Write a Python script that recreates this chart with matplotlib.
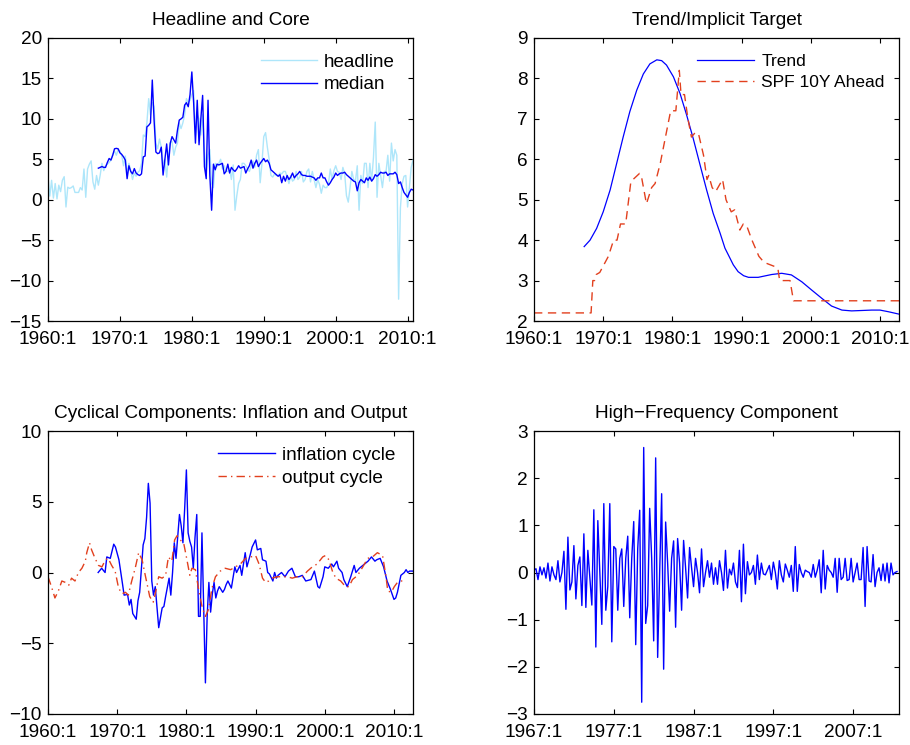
import numpy as np
import matplotlib
matplotlib.use("Agg")
import matplotlib.pyplot as plt

plt.rcParams['font.family'] = ['Liberation Sans', 'DejaVu Sans']

# ---------------- data ----------------
headline_start = 1960.0
headline = [
    2.85, 0.45, 2.4, 0.2,  2.0, 0.1, 1.8, 1.0,  2.4, 2.85, -0.9, 1.55,  1.4, 1.5, 1.7, 0.9,
    0.9, 0.9, 1.5, 1.2,  3.8, 0.3, 3.8, 4.4,  4.8, 2.2, 1.3, 3.0,
    1.8, 3.0, 4.5, 3.6,  4.2, 4.4, 4.6, 4.9,  5.6, 6.0, 5.5, 6.2,  6.0, 5.5, 4.2, 5.4,
    3.2, 4.5, 3.6, 2.5,  3.3, 2.9, 3.4, 3.6,  4.5, 8.0, 7.8, 9.5,  12.5, 10.5, 12.0, 11.5,
    7.0, 6.3, 7.5, 6.5,  4.5, 5.0, 2.8, 5.5,  7.0, 7.2, 5.5, 6.5,  7.0, 9.5, 8.8, 9.5,
    10.5, 12.5, 12.0, 12.3,  13.0, 13.5, 8.0, 10.5,  10.0, 8.0, 10.5, 6.0,  3.5, 5.5, 6.2, 2.0,
    1.5, 4.5, 4.1, 4.5,  5.0, 3.8, 4.2, 3.5,  3.5, 3.8, 2.5, 4.3,  -1.3, 0.5, 2.0, 2.5,
    4.5, 4.5, 4.2, 3.8,  3.5, 4.2, 4.8, 4.0,  5.5, 6.2, 2.1, 4.5,  7.8, 8.3, 6.5, 5.0,
    3.0, 2.8, 3.2, 3.0,  3.0, 3.3, 3.2, 3.5,  3.5, 2.8, 2.0, 3.0,  2.3, 2.5, 3.5, 2.5,
    2.8, 3.5, 2.2, 2.5,  3.5, 3.8, 2.2, 3.5,  2.5, 1.5, 2.5, 1.9,  0.8, 1.8, 1.5, 1.5,
    2.0, 3.8, 2.5, 3.6,  4.2, 3.5, 3.4, 2.5,  4.0, 3.2, 0.5, -0.3,  1.5, 3.5, 2.5, 2.3,
    4.2, -1.3, 3.0, 2.0,  4.5, 4.5, 1.5, 4.5,  2.3, 5.2, 9.6, 0.3,  4.5, 3.0, 1.5, 3.5,
    3.5, 5.5, 2.3, 7.0,  4.8, 6.2, 5.5, -12.3,  -1.0, 2.0, 2.9, 3.0,  -0.9, 1.5, 4.0, 4.9,
]
median_start = 1967.0
median = [
    3.9, 4.0, 4.1, 4.0,  4.0, 4.6, 5.1, 4.9,  5.5, 6.3, 6.35, 6.3,  5.8, 5.6, 5.3, 4.9,
    2.6, 4.2, 3.5, 3.2,  3.85, 3.3, 3.1, 3.0,  3.2, 5.3, 5.4, 9.0,  9.2, 9.5, 14.8, 9.85,
    5.9, 5.7, 5.8, 6.5,  3.05, 5.0, 6.9, 4.3,  7.0, 7.8, 7.4, 7.0,  8.6, 9.85, 10.0, 10.2,
    11.7, 12.0, 11.5, 13.0,  15.8, 12.0, 7.0, 12.3,  6.8, 10.0, 12.9, 4.1,  2.6, 12.3, 3.0, -1.3,
    4.4, 3.7, 4.4, 4.3,  4.4, 4.5, 3.2, 3.5,  4.4, 3.3, 4.0, 3.7,  3.5, 3.8, 4.2, 3.9,
    4.0, 4.1, 3.3, 3.8,  4.2, 4.9, 3.9, 4.5,  4.9, 4.1, 4.5, 4.8,  5.1, 4.7, 4.9, 4.5,
    3.7, 3.5, 3.3, 3.1,  2.9, 3.1, 2.1, 2.9,  2.3, 3.0, 2.5, 2.8,  3.3, 2.7, 3.0, 3.2,
    3.5, 3.1, 3.0, 3.0,  2.9, 2.9, 2.9, 2.8,  2.7, 2.4, 2.7, 2.7,  3.3, 2.7, 2.7, 2.2,
    1.8, 2.1, 2.5, 2.8,  3.3, 3.0, 3.2, 3.3,  3.3, 3.4, 3.1, 2.9,  2.7, 2.5, 2.3, 2.2,
    1.1, 2.1, 2.5, 2.3,  2.1, 2.7, 2.4, 2.8,  2.3, 2.6, 3.1, 2.9,  3.1, 3.4, 3.3, 3.3,
    3.4, 3.0, 3.2, 3.2,  3.2, 3.4, 3.1, 2.0,  2.2, 1.5, 0.9, 0.6,  0.3, 0.9, 1.3, 1.2,
]

trend_years = [1967.25, 1968.1, 1969.05, 1970.0, 1971.0, 1971.95, 1972.9, 1973.85, 1974.85,
               1975.8, 1976.75, 1977.75, 1978.45, 1979.15, 1980.15, 1981.1, 1982.05, 1983.0,
               1984.0, 1984.95, 1985.9, 1986.9, 1987.6, 1988.1, 1988.8, 1989.5, 1990.3,
               1991.0, 1992.4, 1994.35, 1995.8, 1997.2, 1998.7, 2000.1, 2001.6, 2003.0,
               2004.5, 2005.9, 2007.4, 2008.8, 2010.0, 2011.2, 2012.75]
trend = [3.84, 4.0, 4.29, 4.70, 5.24, 5.90, 6.56, 7.18, 7.71,
         8.11, 8.36, 8.46, 8.44, 8.33, 8.04, 7.63, 7.10, 6.52,
         5.86, 5.24, 4.66, 4.17, 3.80, 3.63, 3.39, 3.22, 3.12,
         3.08, 3.08, 3.15, 3.18, 3.14, 2.97, 2.77, 2.56, 2.37,
         2.27, 2.25, 2.26, 2.27, 2.27, 2.23, 2.17]

spf_years = [1960.0, 1968.25, 1968.5, 1968.75, 1969.0, 1969.5, 1970.75, 1971.5, 1972.0,
             1972.5, 1973.25, 1974.0, 1975.25, 1975.5, 1976.25, 1977.0, 1977.5, 1978.25,
             1979.75, 1980.5, 1981.0, 1981.25, 1981.75, 1982.25, 1982.75, 1983.25, 1983.75,
             1984.5, 1985.0, 1985.25, 1985.75, 1986.25, 1987.25, 1987.75, 1988.5, 1989.0,
             1989.75, 1990.25, 1990.75, 1991.5, 1992.0, 1992.5, 1993.25, 1994.75, 1995.25,
             1995.5, 1997.0, 1997.5, 2012.75]
spf = [2.2, 2.2, 3.0, 3.0, 3.15, 3.2, 3.6, 4.0, 4.0,
       4.4, 4.4, 5.45, 5.65, 5.6, 4.9, 5.3, 5.4, 5.9,
       7.2, 7.2, 8.2, 7.6, 7.6, 7.0, 6.55, 6.65, 6.65,
       6.1, 5.5, 5.6, 5.3, 5.2, 5.5, 5.0, 4.7, 4.75,
       4.25, 4.4, 4.35, 4.0, 3.8, 3.6, 3.45, 3.35, 3.3,
       3.0, 3.0, 2.5, 2.5]

infl_years = [1967.25, 1967.75, 1968.25, 1968.5, 1969.0, 1969.5, 1969.75, 1970.25, 1970.75,
              1971.0, 1971.5, 1971.75, 1972.0, 1972.25, 1972.75, 1973.0, 1973.25, 1973.75,
              1974.0, 1974.25, 1974.5, 1974.75, 1975.0, 1975.25, 1975.5, 1976.0, 1976.5,
              1976.75, 1977.0, 1977.5, 1977.75, 1978.0, 1978.25, 1978.5, 1979.0, 1979.25,
              1979.5, 1979.75, 1980.0, 1980.25, 1980.5, 1980.75, 1981.0, 1981.25, 1981.5,
              1981.75, 1982.0, 1982.25, 1982.75, 1983.0, 1983.25, 1983.5, 1983.75, 1984.0,
              1984.25, 1984.5, 1984.75, 1985.0, 1985.25, 1985.5, 1985.75, 1986.0, 1986.5,
              1987.0, 1987.25, 1987.75, 1988.0, 1988.5, 1988.75, 1989.25, 1989.5, 1990.0,
              1990.25, 1990.75, 1991.0, 1991.5, 1991.75, 1992.0, 1992.5, 1992.75, 1993.0,
              1993.25, 1993.75, 1994.25, 1994.75, 1995.25, 1995.75, 1996.25, 1996.75, 1997.25,
              1998.0, 1998.5, 1999.0, 1999.25, 1999.75, 2000.0, 2000.5, 2001.0, 2001.25,
              2001.75, 2002.0, 2002.5, 2002.75, 2003.25, 2003.75, 2004.25, 2004.5, 2005.0,
              2005.75, 2006.25, 2006.75, 2007.25, 2007.5, 2008.0, 2008.5, 2009.0, 2009.5,
              2010.0, 2010.25, 2010.5, 2011.0, 2011.5, 2011.75, 2012.0, 2012.25, 2012.75]
infl_cycle = [0.0, 0.3, 0.0, 1.1, 1.0, 2.0, 1.8, 0.9, -0.75,
              -1.6, -1.55, -2.3, -1.9, -2.9, -3.3, -2.0, -1.4, 1.95,
              2.4, 3.9, 6.3, 4.9, -0.6, -1.6, -1.0, -3.9, -2.5,
              -2.4, -1.7, -0.4, -1.6, 0.0, 2.1, 1.0, 4.1, 3.3,
              2.1, 4.5, 7.25, 2.8, 2.2, 1.8, 0.3, 2.5, 4.1,
              -3.1, -3.1, 2.8, -7.8, -3.1, -0.7, -2.8, -1.5, -0.7,
              -1.8, -1.3, -1.0, -1.2, -1.4, -1.2, -0.85, -0.6, -1.1,
              0.4, 0.0, 0.5, -0.2, 1.4, 0.4, 1.3, 1.8, 2.3,
              1.6, 1.7, 0.9, 0.8, 0.0, -0.1, -0.6, 0.0, -0.4,
              -0.2, 0.0, -0.3, 0.1, 0.3, -0.3, -0.3, -0.2, -0.6,
              -0.5, 0.1, -1.0, -1.1, -0.3, 0.4, 0.3, 0.6, 0.4,
              0.8, 0.3, 0.0, -0.5, -1.0, -0.3, 0.5, 0.0, 0.3,
              0.6, 0.8, 1.1, 0.8, 0.9, 1.0, 0.4, -0.6, -1.2,
              -1.9, -1.8, -1.4, -0.2, 0.0, 0.2, 0.0, 0.1, 0.1]

out_years = [1960.0, 1960.5, 1961.0, 1961.5, 1962.0, 1962.5, 1963.0, 1963.4, 1963.9, 1964.4,
             1964.9, 1965.4, 1965.6, 1966.0, 1966.3, 1966.8, 1967.3, 1967.8, 1968.3, 1968.7,
             1969.2, 1969.7, 1970.2, 1970.7, 1971.2, 1971.6, 1972.1, 1972.6, 1973.1, 1973.6,
             1974.1, 1974.7, 1975.2, 1975.5, 1976.0, 1976.5, 1977.0, 1977.4, 1977.9, 1978.3,
             1978.65, 1979.1, 1979.6, 1980.0, 1980.5, 1980.8, 1981.3, 1981.8, 1982.3, 1982.75,
             1983.2, 1983.7, 1984.2, 1984.9, 1985.6, 1986.4, 1987.1, 1987.8, 1988.55, 1989.3,
             1990.0, 1990.5, 1991.0, 1991.45, 1991.9, 1992.4, 1993.1, 1993.85, 1994.6, 1995.3,
             1996.0, 1996.75, 1997.5, 1998.2, 1998.9, 1999.7, 2000.1, 2000.6, 2001.1, 2001.6,
             2002.3, 2003.0, 2003.5, 2004.0, 2004.75, 2005.5, 2006.2, 2006.9, 2007.6, 2008.35,
             2008.85, 2009.1, 2009.6, 2010.05, 2010.5, 2011.0, 2011.5]
out_cycle = [-0.3, -1.0, -1.8, -1.3, -0.6, -0.7, -0.9, -0.4, -0.6, 0.0,
             0.3, 0.8, 1.4, 2.1, 1.6, 1.0, 0.5, 0.4, 0.9, 1.0,
             0.5, 0.1, -1.1, -1.5, -1.4, -1.6, -0.6, 0.3, 1.4, 0.9,
             -0.3, -1.7, -2.1, -1.5, -0.3, -0.4, -0.2, 1.1, 0.8, 2.3,
             2.6, 2.3, 2.1, 1.1, -0.2, 0.3, 0.2, -1.3, -2.5, -3.1,
             -2.6, -1.1, -0.3, 0.1, 0.3, 0.2, 0.4, 0.6, 1.0, 1.1,
             1.2, 0.6, -0.4, -0.7, -0.6, -0.4, -0.3, -0.3, -0.3, -0.4,
             -0.3, -0.3, 0.1, 0.4, 0.6, 1.1, 1.2, 0.9, 0.1, -0.4,
             -0.6, -1.0, -1.0, -0.5, -0.2, 0.4, 1.0, 1.1, 1.4, 1.2,
             -0.3, -1.3, -1.4, -1.0, -0.7, -0.6, -0.6]

hf_start = 1967.0
high_freq = [
    0.05, 0.08, -0.15, 0.12, -0.05, 0.1, -0.12, 0.2, -0.18, 0.12, -0.05, -0.15, 0.25, -0.2, 0.0,
    0.45, -0.78, 0.75, -0.37, -0.2, 0.57, -0.56, 0.15, 0.33, -0.7, 0.82, -0.74, 0.47, -0.1, -0.69,
    1.33, -1.58, 1.1, 0.0, -1.1, 1.46, -0.8, -0.3, 1.46, -1.47, 0.55, 0.5, -0.8, 0.3, 0.5,
    -0.72, 0.3, 0.77, -0.96, 0.3, 1.08, -1.53, 0.5, 1.32, -2.75, 2.65, -1.08, -0.7, 1.36, 0.3,
    -1.45, 2.43, -1.8, 0.0, 1.67, -2.05, 1.07, 0.2, -0.82, 0.3, 0.67, -1.16, 0.72, 0.2, -0.8,
    0.68, 0.1, -0.54, 0.53, 0.1, -0.3, 0.3, 0.0, -0.43, 0.5, -0.3, 0.0, 0.25, -0.1, 0.2,
    -0.25, 0.1, -0.25, 0.25, 0.0, -0.38, 0.47, -0.33, 0.07, -0.05, 0.2, -0.2, -0.32, 0.47, -0.62,
    0.6, -0.45, 0.23, -0.05, 0.0, 0.15, -0.25, 0.37, -0.15, 0.2, -0.03, -0.05, 0.05, 0.15, -0.15,
    0.22, 0.0, -0.35, 0.25, -0.05, -0.2, 0.18, 0.05, -0.1, 0.15, -0.4, 0.55, -0.4, 0.17, 0.0,
    -0.1, 0.05, 0.02, 0.0, -0.1, 0.17, -0.1, 0.05, 0.27, -0.43, 0.47, -0.35, 0.15, 0.05, 0.0,
    -0.1, 0.3, -0.42, 0.3, -0.15, -0.1, 0.3, -0.17, -0.15, 0.3, -0.2, 0.0, 0.2, -0.15, -0.15,
    0.53, -0.72, 0.55, -0.18, -0.2, 0.38, -0.3, 0.0, 0.1, -0.17, 0.18, -0.18, 0.2, -0.22, 0.2,
    -0.05, 0.0, 0.02,
]

year_ticks = [1960, 1970, 1980, 1990, 2000, 2010]
year_labels = ["1960:1", "1970:1", "1980:1", "1990:1", "2000:1", "2010:1"]
hf_ticks = [1967, 1977, 1987, 1997, 2007]
hf_labels = ["1967:1", "1977:1", "1987:1", "1997:1", "2007:1"]

# ---------------- styling ----------------
BLUE = '#0000ff'
LIGHT = '#aee6fa'
RED = '#e2401e'
FS = 13.7

fig = plt.figure(figsize=(9.1, 7.45), dpi=100)
W, H = 365 / 910, 283 / 745
pos = {
    'tl': [48 / 910, 1 - 321 / 745, W, H],
    'tr': [534 / 910, 1 - 321 / 745, W, H],
    'bl': [48 / 910, 1 - 714 / 745, W, H],
    'br': [534 / 910, 1 - 714 / 745, W, H],
}


def style(ax, title):
    ax.set_title(title, fontsize=FS, pad=9.5)
    ax.tick_params(direction='in', length=3.5, width=0.8, top=True, right=True,
                   labelsize=FS)
    ax.tick_params(axis='x', pad=7)
    ax.tick_params(axis='y', pad=4.5)
    for s in ax.spines.values():
        s.set_linewidth(0.9)


# Top-left
ax = fig.add_axes(pos['tl'])
hx = headline_start + np.arange(len(headline)) / 4.0
mx = median_start + np.arange(len(median)) / 4.0
ax.plot(hx, headline, color=LIGHT, lw=1.0, label='headline')
ax.plot(mx, median, color=BLUE, lw=1.0, label='median')
ax.set_xlim(1960, 2010.75)
ax.set_ylim(-15, 20)
ax.set_yticks(np.arange(-15, 21, 5))
ax.set_xticks(year_ticks)
ax.set_xticklabels(year_labels)
style(ax, 'Headline and Core')
ax.legend(loc='upper left', bbox_to_anchor=(0.584, 0.945), frameon=False, fontsize=13.5,
          handlelength=3.0, handletextpad=0.35, labelspacing=0.28, borderpad=0,
          borderaxespad=0)

# Top-right
ax = fig.add_axes(pos['tr'])
ax.plot(trend_years, trend, color=BLUE, lw=0.9, label='Trend')
ax.plot(spf_years, spf, color=RED, lw=1.0, dashes=(6, 4), label='SPF 10Y Ahead')
ax.set_xlim(1960, 2012.75)
ax.set_ylim(2, 9)
ax.set_yticks(np.arange(2, 10, 1))
ax.set_xticks(year_ticks)
ax.set_xticklabels(year_labels)
style(ax, 'Trend/Implicit Target')
ax.legend(loc='upper left', bbox_to_anchor=(0.447, 0.945), frameon=False, fontsize=12.5,
          handlelength=3.3, handletextpad=0.4, labelspacing=0.38, borderpad=0,
          borderaxespad=0)

# Bottom-left
ax = fig.add_axes(pos['bl'])
ax.plot(infl_years, infl_cycle, color=BLUE, lw=1.0, label='inflation cycle')
ax.plot(out_years, out_cycle, color=RED, lw=1.0, dashes=(6, 3, 1, 3), label='output cycle')
ax.set_xlim(1960, 2012.75)
ax.set_ylim(-10, 10)
ax.set_yticks([-10, -5, 0, 5, 10])
ax.set_xticks(year_ticks)
ax.set_xticklabels(year_labels)
style(ax, 'Cyclical Components: Inflation and Output')
ax.legend(loc='upper left', bbox_to_anchor=(0.466, 0.945), frameon=False, fontsize=13.7,
          handlelength=3.0, handletextpad=0.35, labelspacing=0.3, borderpad=0,
          borderaxespad=0)

# Bottom-right
ax = fig.add_axes(pos['br'])
fx = hf_start + np.arange(len(high_freq)) / 4.0
ax.plot(fx, high_freq, color=BLUE, lw=1.0)
ax.set_xlim(1967, 2012.75)
ax.set_ylim(-3, 3)
ax.set_yticks(np.arange(-3, 4, 1))
ax.set_xticks(hf_ticks)
ax.set_xticklabels(hf_labels)
style(ax, 'High\u2212Frequency Component')

fig.savefig('out.png', dpi=100)
